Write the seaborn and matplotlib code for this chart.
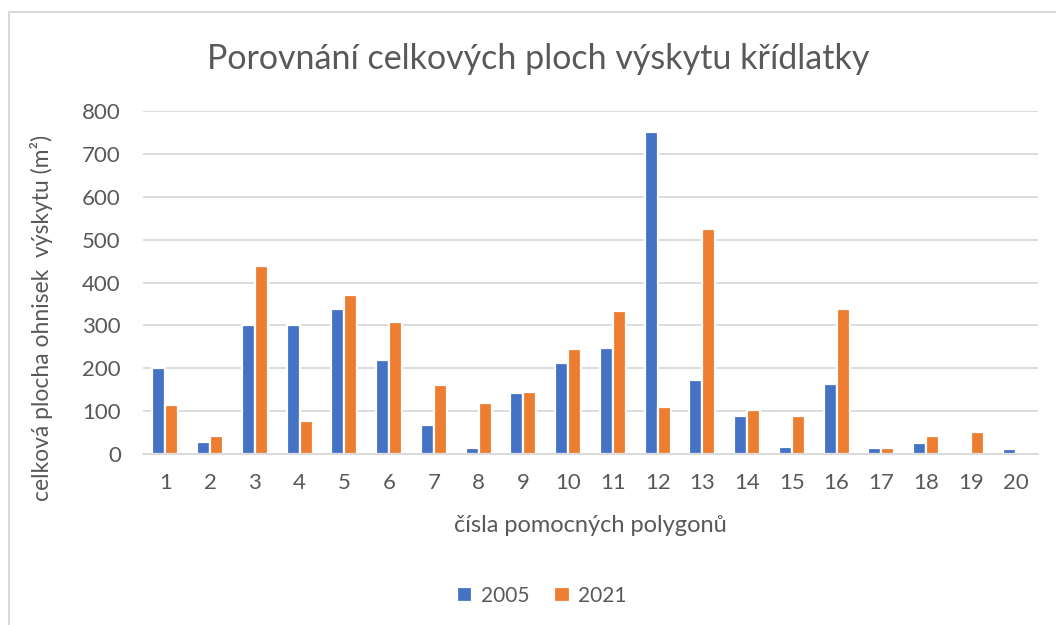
import matplotlib
matplotlib.use("Agg")
import matplotlib.pyplot as plt
import seaborn as sns
import pandas as pd
from matplotlib.patches import Rectangle

polygons = [str(i) for i in range(1, 21)]
values_2005 = [200, 28, 300, 300, 339, 220, 68, 15, 143, 213, 247, 751, 173, 89, 16, 163, 15, 26, 0, 12]
values_2021 = [115, 41, 439, 76, 371, 309, 162, 118, 145, 244, 333, 109, 524, 103, 89, 339, 13, 41, 51, 4]
series = ["2005", "2021"]
yticks = [0, 100, 200, 300, 400, 500, 600, 700, 800]

title = "Porovnání celkových ploch výskytu křídlatky"
xlabel = "čísla pomocných polygonů"
ylabel = "celková plocha ohnisek  výskytu (m²)"

df = pd.DataFrame({
    "polygon": polygons * 2,
    "rok": [series[0]] * len(polygons) + [series[1]] * len(polygons),
    "plocha": values_2005 + values_2021,
})

sns.set_theme(style="white")
plt.rcParams["font.family"] = ["Lato", "DejaVu Sans"]
text_color = "#595959"
grid_color = "#D9D9D9"

fig = plt.figure(figsize=(10.56, 6.25), dpi=100)
ax = fig.add_axes([143 / 1056, 1 - 454 / 625, (1038 - 143) / 1056, (454 - 111) / 625])

sns.barplot(data=df, x="polygon", y="plocha", hue="rok", order=polygons,
            hue_order=series, palette=["#4472C4", "#ED7D31"], width=0.58,
            edgecolor="white", linewidth=1.6, saturation=1, ax=ax, legend=True)

ax.set_ylim(0, 800)
ax.set_yticks(yticks)
ax.set_yticklabels([str(v) for v in yticks])
ax.yaxis.grid(True, color=grid_color, linewidth=1.3)
ax.set_axisbelow(True)
for s in ["top", "right", "left"]:
    ax.spines[s].set_visible(False)
ax.spines["bottom"].set_color(grid_color)
ax.spines["bottom"].set_linewidth(1.3)
ax.tick_params(axis="both", length=0, colors=text_color, labelsize=16)
ax.tick_params(axis="y", pad=16)
ax.tick_params(axis="x", pad=14)
ax.set_xlim(-0.5, len(polygons) - 0.5)

ax.set_xlabel(xlabel, fontsize=17, color=text_color)
ax.set_ylabel(ylabel, fontsize=16.5, color=text_color)
ax.xaxis.set_label_coords(0.5, -0.207)
ax.yaxis.set_label_coords(-0.113, 0.397)
ax.xaxis.label.set_va("center")
ax.yaxis.label.set_va("center")

fig.text(0.51, 0.905, title, ha="center", va="center", fontsize=24.5, color=text_color)

handles, labels = ax.get_legend_handles_labels()
ax.legend_.remove()
fig.legend(handles, labels, loc="center", bbox_to_anchor=(0.513, 0.047), ncol=2,
           frameon=False, fontsize=15, labelcolor=text_color, handlelength=0.75,
           handleheight=0.75, handletextpad=0.4, columnspacing=1.2)

fig.patches.append(Rectangle((9 / 1056, -0.1), 1.2, 1 - 12 / 625 + 0.1,
                             transform=fig.transFigure, fill=False,
                             edgecolor=grid_color, linewidth=1.5))

fig.savefig("out.png", dpi=100, facecolor="white")
